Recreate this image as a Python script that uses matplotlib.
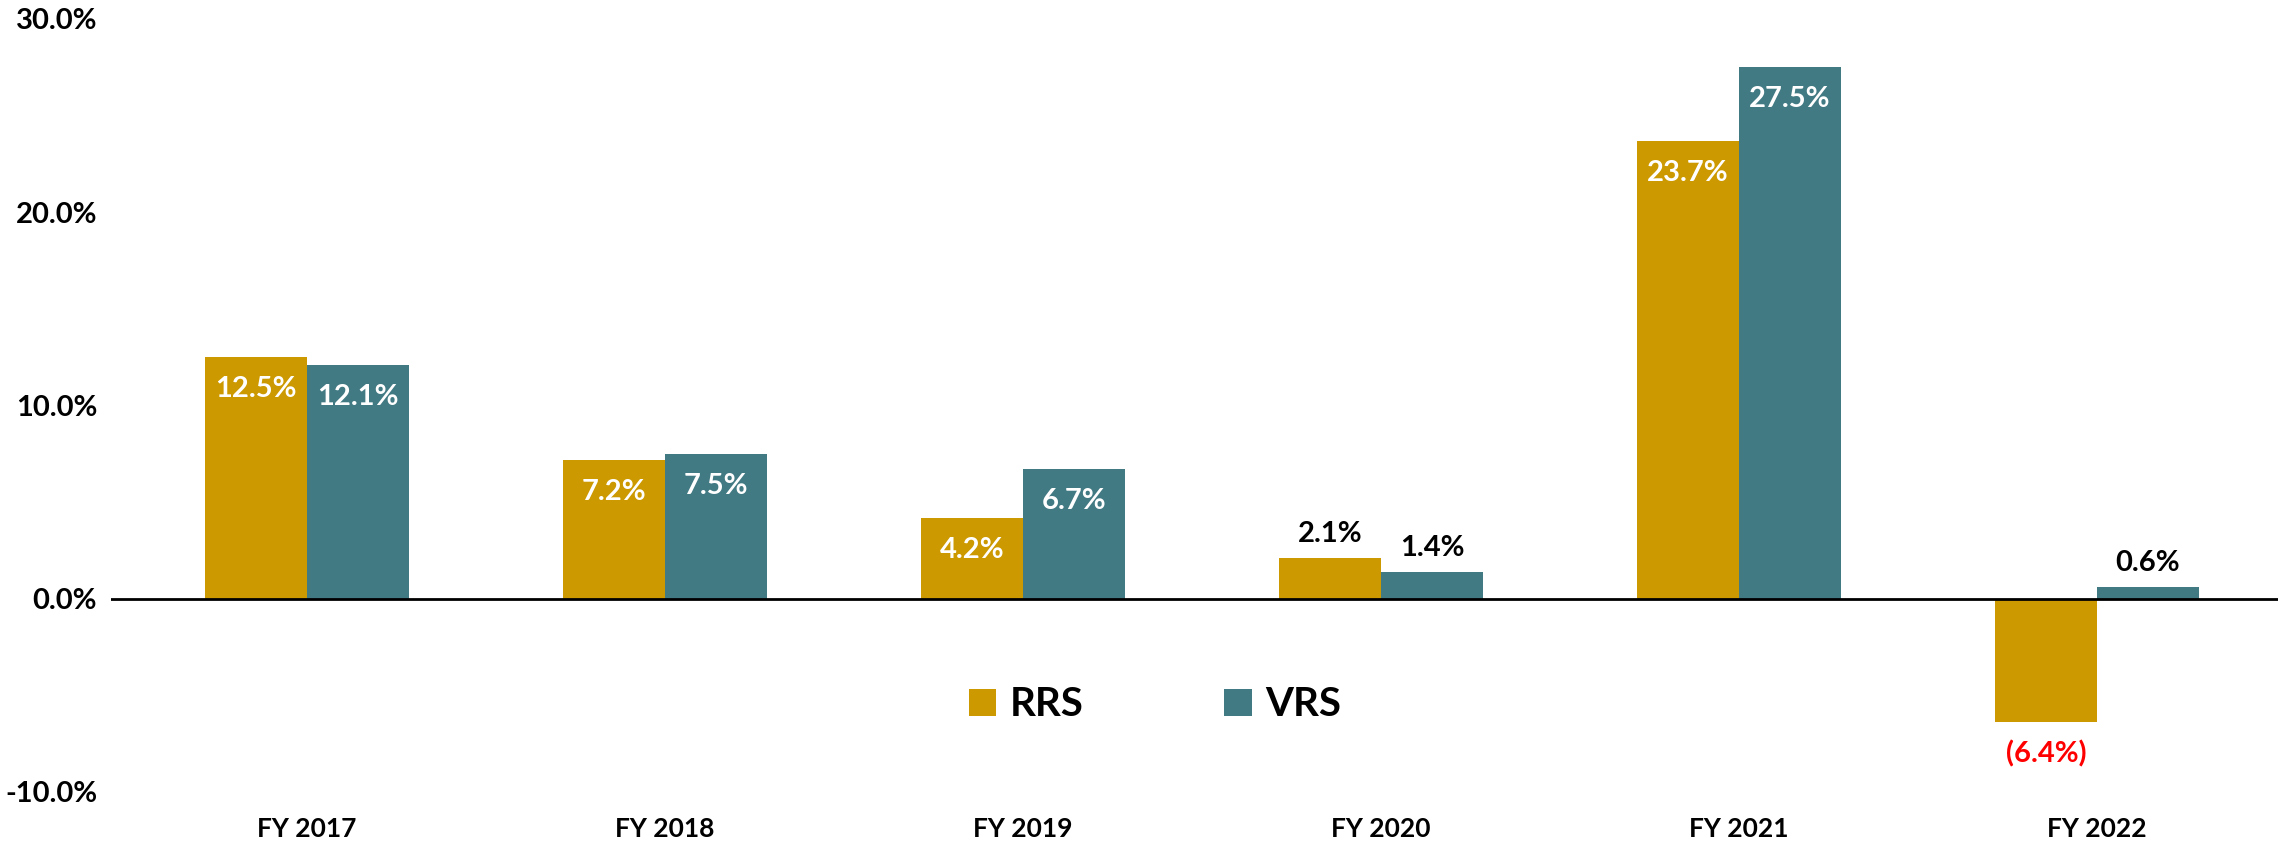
import matplotlib
matplotlib.use("Agg")
import numpy as np
import matplotlib.pyplot as plt
from matplotlib.patches import Patch

# --- data ----------------------------------------------------------------

YEARS = ["FY 2017", "FY 2018", "FY 2019", "FY 2020", "FY 2021", "FY 2022"]
RRS = [12.5, 7.2, 4.2, 2.1, 23.7, -6.4]
VRS = [12.1, 7.5, 6.7, 1.4, 27.5, 0.6]
Y_TICKS = [-10, 0, 10, 20, 30]

# labels that sit outside the bar end (too short for an inside label)
OUTSIDE = {("RRS", 3), ("VRS", 3), ("RRS", 5), ("VRS", 5)}

GOLD = "#CC9900"
TEAL = "#427A83"

plt.rcParams["font.family"] = ["Lato", "DejaVu Sans"]
plt.rcParams["font.weight"] = "bold"

fig = plt.figure(figsize=(22.93, 8.51), dpi=100)
ax = fig.add_axes([111 / 2293, 1 - 792 / 851, (2278 - 111) / 2293, (792 - 19) / 851])

x = np.arange(len(YEARS))
w = 102 / 358

bars_r = ax.bar(x - w / 2, RRS, width=w, color=GOLD, zorder=2)
bars_v = ax.bar(x + w / 2, VRS, width=w, color=TEAL, zorder=2)

ax.axhline(0, color="black", lw=2, zorder=3)

ax.set_xlim((111 - 307) / 358, (2278 - 307) / 358)
ax.set_ylim(-10, 30)
ax.set_yticks(Y_TICKS)
ax.set_yticklabels([f"{t:.1f}%" for t in Y_TICKS], fontsize=21, fontweight="bold")
ax.set_xticks(x)
ax.set_xticklabels(YEARS, fontsize=19, fontweight="bold")
ax.tick_params(axis="both", length=0)
ax.tick_params(axis="y", pad=10)
ax.tick_params(axis="x", pad=18)
for s in ax.spines.values():
    s.set_visible(False)


def label_bars(bars, values, name):
    for i, (b, v) in enumerate(zip(bars, values)):
        cx = b.get_x() + b.get_width() / 2
        if v < 0:
            txt = f"({abs(v):.1f}%)"
            ax.annotate(txt, (cx, v), xytext=(0, -23), textcoords="offset points",
                        ha="center", va="center", fontsize=21, fontweight="bold",
                        color="red")
        elif (name, i) in OUTSIDE:
            ax.annotate(f"{v:.1f}%", (cx, v), xytext=(0, 8), textcoords="offset points",
                        ha="center", va="bottom", fontsize=21, fontweight="bold",
                        color="black")
        else:
            ax.annotate(f"{v:.1f}%", (cx, v), xytext=(0, -23), textcoords="offset points",
                        ha="center", va="center", fontsize=21, fontweight="bold",
                        color="white")


label_bars(bars_r, RRS, "RRS")
label_bars(bars_v, VRS, "VRS")

handles = [Patch(facecolor=GOLD, label="RRS"), Patch(facecolor=TEAL, label="VRS")]
fig.legend(handles=handles, loc="center", bbox_to_anchor=(1155 / 2293, 1 - 705 / 851),
           ncol=2, frameon=False, prop={"size": 29, "weight": "bold"},
           handlelength=0.68, handleheight=0.68, handletextpad=0.33,
           columnspacing=3.5)

fig.savefig("out.png", dpi=100)
